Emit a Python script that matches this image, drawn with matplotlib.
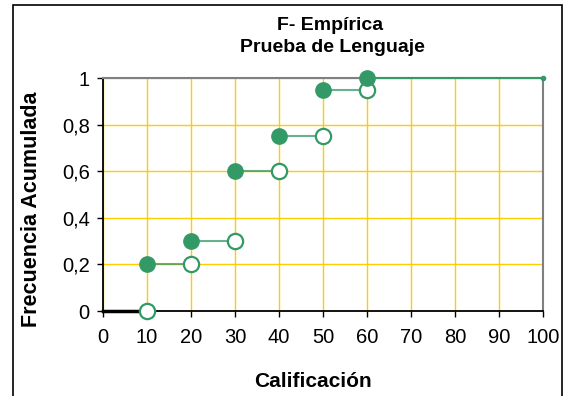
import matplotlib
matplotlib.use("Agg")
import matplotlib.pyplot as plt
from matplotlib.patches import Rectangle

# ======================================================
# Datos
# ======================================================
calificacion = [10, 20, 30, 40, 50, 60]
frec_acumulada = [0.2, 0.3, 0.6, 0.75, 0.95, 1.0]
frec_anterior = [0.0, 0.2, 0.3, 0.6, 0.75, 0.95]
x_ticks = [0, 10, 20, 30, 40, 50, 60, 70, 80, 90, 100]
y_ticks = [0, 0.2, 0.4, 0.6, 0.8, 1]
y_labels = ["0", "0,2", "0,4", "0,6", "0,8", "1"]

VERDE = "#339966"
AMARILLO = "#FFCC00"

plt.rcParams["font.family"] = ["Liberation Sans", "DejaVu Sans"]

# ======================================================
# Figura
# ======================================================
fig = plt.figure(figsize=(5.66, 3.96), dpi=100)
ax = fig.add_axes([0.182, 0.2146, 0.777, 0.5884])

# borde exterior
fig.patches.append(Rectangle((0.023, -0.02), 0.970, 1.007, transform=fig.transFigure,
                             fill=False, edgecolor="black", linewidth=1.2))

# tramo inicial y final
ax.plot([0, calificacion[0]], [0, 0], color="black", linewidth=2.5, zorder=3, clip_on=False)
ax.plot([calificacion[-1], 100], [frec_acumulada[-1], frec_acumulada[-1]],
        color=VERDE, linewidth=1.5, zorder=3, clip_on=False)
ax.plot([100], [frec_acumulada[-1]], "o", color=VERDE, markersize=3, zorder=4, clip_on=False)

# escalones
for i in range(len(calificacion) - 1):
    ax.plot([calificacion[i], calificacion[i + 1]], [frec_acumulada[i], frec_acumulada[i]],
            color=VERDE, linewidth=1.5, alpha=0.75, zorder=3)

ax.plot(calificacion, frec_anterior, "o", markersize=11, markerfacecolor="white",
        markeredgecolor=VERDE, markeredgewidth=1.6, linestyle="none", zorder=5, clip_on=False)
ax.plot(calificacion, frec_acumulada, "o", markersize=11, color=VERDE,
        linestyle="none", zorder=6, clip_on=False)

# ejes
ax.set_xlim(0, 100)
ax.set_ylim(0, 1)
ax.set_xticks(x_ticks)
ax.set_yticks(y_ticks)
ax.set_yticklabels(y_labels)
ax.tick_params(labelsize=14.5, length=4.5, width=1, direction="out", pad=8)
ax.tick_params(axis="y", pad=5)
ax.grid(True, color=AMARILLO, linewidth=1)
ax.set_axisbelow(True)

ax.spines["left"].set_color("black")
ax.spines["bottom"].set_color("black")
ax.spines["left"].set_linewidth(1.3)
ax.spines["bottom"].set_linewidth(1.3)
ax.spines["top"].set_color("#808080")
ax.spines["right"].set_color("#808080")
ax.spines["top"].set_linewidth(1.5)
ax.spines["right"].set_linewidth(1.5)

# textos
fig.text(0.584, 0.924, "F- Empírica", ha="center", va="baseline", fontsize=14, fontweight="bold")
fig.text(0.588, 0.869, "Prueba de Lenguaje", ha="center", va="baseline", fontsize=14, fontweight="bold")
fig.text(0.553, 0.022, "Calificación", ha="center", va="baseline", fontsize=15, fontweight="bold")
fig.text(0.056, 0.472, "Frecuencia Acumulada", ha="center", va="center", rotation=90,
         fontsize=15.5, fontweight="bold")

fig.savefig("out.png", dpi=100)
